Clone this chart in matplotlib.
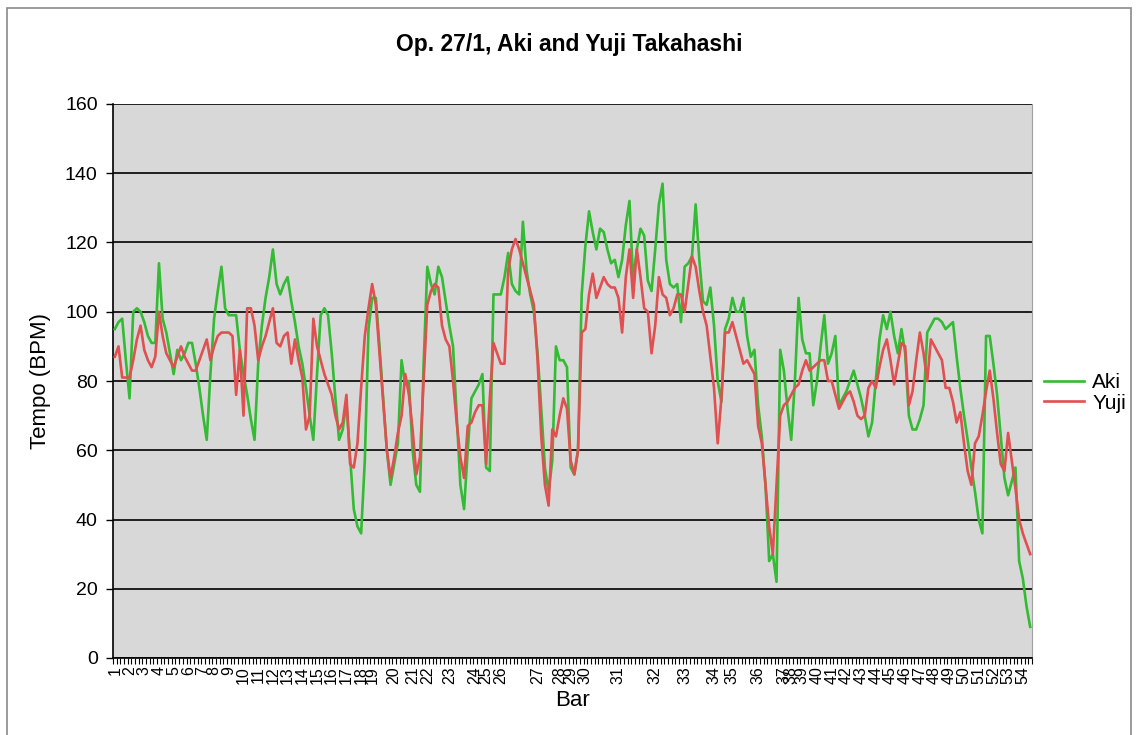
import matplotlib
matplotlib.use("Agg")
import matplotlib.pyplot as plt
from matplotlib.patches import Rectangle

plt.rcParams["font.family"] = ["Liberation Sans", "DejaVu Sans"]

# DATA (tempo per beat)
aki = [95, 97, 98, 86, 75, 100, 101, 100, 97, 93, 91, 91, 114, 98, 94, 88, 82, 89, 86, 88,
       91, 91, 85, 78, 70, 63, 82, 98, 106, 113, 101, 99, 99, 99, 89, 82, 76, 69, 63, 85,
       96, 104, 110, 118, 108, 105, 108, 110, 103, 97, 90, 85, 78, 70, 63, 82, 99, 101, 99, 88,
       75, 63, 66, 74, 58, 43, 38, 36, 57, 95, 104, 104, 90, 75, 60, 50, 56, 62, 86, 79,
       80, 60, 50, 48, 85, 113, 108, 105, 113, 110, 103, 96, 90, 70, 50, 43, 60, 75, 77, 79,
       82, 55, 54, 105, 105, 105, 110, 117, 108, 106, 105, 126, 112, 105, 100, 88, 72, 55, 48, 57,
       90, 86, 86, 84, 55, 53, 60, 105, 119, 129, 123, 118, 124, 123, 118, 114, 115, 110, 115, 125,
       132, 109, 118, 124, 122, 109, 106, 118, 131, 137, 115, 108, 107, 108, 97, 113, 114, 116, 131, 115,
       103, 102, 107, 96, 80, 74, 95, 98, 104, 100, 100, 104, 93, 87, 89, 73, 64, 50, 28, 30,
       22, 89, 83, 72, 63, 80, 104, 92, 88, 88, 73, 80, 90, 99, 85, 88, 93, 73, 75, 77,
       80, 83, 79, 75, 70, 64, 68, 80, 92, 99, 95, 100, 93, 88, 95, 88, 70, 66, 66, 69,
       73, 94, 96, 98, 98, 97, 95, 96, 97, 87, 78, 70, 63, 55, 48, 40, 36, 93, 93, 85,
       76, 64, 52, 47, 51, 55, 28, 23, 15, 9]
yuji = [87, 90, 81, 81, 81, 86, 92, 96, 89, 86, 84, 87, 100, 93, 88, 86, 84, 87, 90, 87,
        85, 83, 83, 86, 89, 92, 86, 90, 93, 94, 94, 94, 93, 76, 89, 70, 101, 101, 96, 86,
        90, 93, 97, 101, 91, 90, 93, 94, 85, 92, 86, 81, 66, 70, 98, 90, 86, 82, 79, 76,
        70, 66, 68, 76, 56, 55, 62, 78, 93, 101, 108, 102, 88, 74, 60, 52, 58, 65, 70, 82,
        76, 66, 53, 58, 80, 102, 106, 108, 107, 96, 92, 90, 80, 68, 58, 52, 67, 68, 71, 73,
        73, 56, 75, 91, 88, 85, 85, 112, 118, 121, 118, 114, 110, 106, 102, 86, 64, 50, 44, 66,
        64, 70, 75, 72, 57, 53, 60, 94, 95, 105, 111, 104, 107, 110, 108, 107, 107, 104, 94, 110,
        118, 104, 118, 110, 101, 100, 88, 96, 110, 105, 104, 99, 101, 105, 105, 100, 108, 116, 113, 106,
        100, 96, 87, 78, 62, 75, 94, 94, 97, 93, 89, 85, 86, 84, 82, 67, 62, 50, 38, 30,
        50, 70, 73, 74, 76, 78, 79, 83, 86, 83, 84, 85, 86, 86, 80, 80, 76, 72, 74, 76,
        77, 74, 70, 69, 70, 78, 80, 78, 84, 89, 92, 86, 79, 85, 91, 90, 73, 77, 86, 94,
        88, 80, 92, 90, 88, 86, 78, 78, 74, 68, 71, 62, 54, 50, 62, 64, 70, 77, 83, 75,
        65, 56, 54, 65, 57, 49, 40, 36, 33, 30]
bar_labels = [str(b) for b in range(1, 55)]
bar_starts = [0, 4, 8, 12, 16, 20, 24, 27, 31, 35, 39, 43, 47, 51, 55, 59, 63, 67, 70,
              76, 81, 85, 91, 98, 101, 105, 115, 121, 124, 128, 137, 147, 155, 163, 168,
              175, 182, 184, 187, 191, 195, 199, 203, 207, 211, 215, 219, 223, 227, 231,
              235, 239, 243, 247]

fig = plt.figure(figsize=(11.38, 7.35), dpi=100)
fig.patches.append(Rectangle((7 / 1138, -0.01), 1124 / 1138, 1.0 - 8 / 735 + 0.01,
                             transform=fig.transFigure, fill=False,
                             edgecolor="#8a8a8a", linewidth=1.2))

ax = fig.add_axes([113 / 1138, 77 / 735, 919 / 1138, 554 / 735])
ax.set_facecolor("#d8d8d8")

n = len(aki)
x = list(range(n))
ax.plot(x, aki, color="#33bb33", linewidth=1.9, label="Aki", zorder=3)
ax.plot(x, yuji, color="#e05050", linewidth=1.9, label="Yuji", zorder=3)

ax.set_xlim(-0.5, n - 0.5)
ax.set_ylim(0, 160)
ax.set_yticks(range(0, 161, 20))
ax.yaxis.grid(True, color="black", linewidth=1.2)
ax.set_axisbelow(True)

ax.set_xticks(bar_starts)
ax.set_xticklabels(bar_labels, rotation=90, fontsize=11.5)
ax.set_xticks([i - 0.5 for i in range(n + 1)], minor=True)
ax.tick_params(axis="x", which="major", length=0, pad=6)
ax.tick_params(axis="x", which="minor", length=4, width=0.8, direction="out")
ax.tick_params(axis="y", length=5, width=1, labelsize=14, pad=6)

for s in ["left", "bottom"]:
    ax.spines[s].set_color("black")
    ax.spines[s].set_linewidth(1.2)
ax.spines["top"].set_visible(False)
ax.spines["right"].set_color("#a0a0a0")

ax.set_ylabel("Tempo (BPM)", fontsize=16, labelpad=10)
ax.set_xlabel("Bar", fontsize=16, labelpad=4)
fig.text(569 / 1138, 1 - 45 / 735, "Op. 27/1, Aki and Yuji Takahashi",
         ha="center", va="center", fontsize=16.5, fontweight="bold")

fig.legend(loc="center left", bbox_to_anchor=(1036 / 1138, 1 - 393 / 735),
           frameon=False, fontsize=15, handlelength=1.9, handletextpad=0.4,
           labelspacing=0.05, borderaxespad=0)

fig.savefig("out.png", dpi=100)
